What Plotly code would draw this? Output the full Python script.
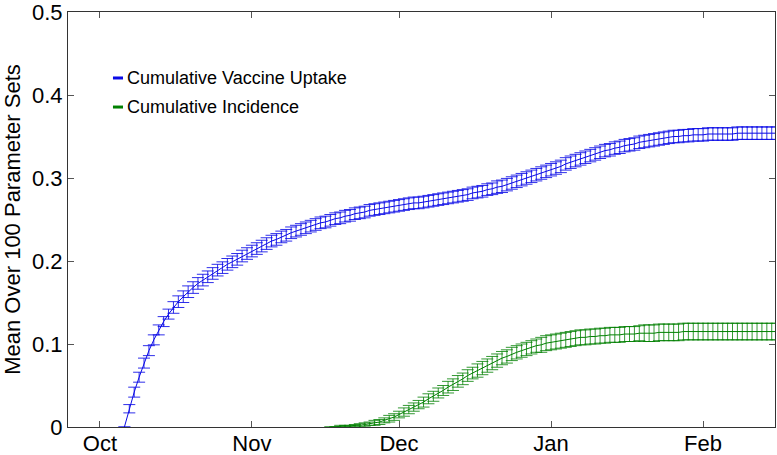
import pandas as pd
import plotly.graph_objects as go

# ---- data (daily means over 100 parameter sets) ----
vacc_start = "2009-10-06"
vacc_mean = [
    0.000, 0.022, 0.042, 0.060, 0.077, 0.092, 0.105, 0.117, 0.127, 0.136,
    0.144, 0.151, 0.157, 0.163, 0.168, 0.173, 0.177, 0.181, 0.185, 0.189,
    0.192, 0.196, 0.199, 0.202, 0.206, 0.209, 0.212, 0.215, 0.218, 0.221,
    0.224, 0.226, 0.229, 0.231, 0.234, 0.236, 0.238, 0.240, 0.242, 0.244,
    0.246, 0.247, 0.249, 0.251, 0.252, 0.254, 0.255, 0.257, 0.258, 0.259,
    0.261, 0.262, 0.263, 0.264, 0.265, 0.266, 0.267, 0.268, 0.269, 0.270,
    0.270, 0.271, 0.272, 0.273, 0.274, 0.275, 0.276, 0.277, 0.278, 0.279,
    0.280, 0.282, 0.283, 0.284, 0.286, 0.287, 0.289, 0.290, 0.292, 0.294,
    0.296, 0.298, 0.300, 0.302, 0.304, 0.306, 0.308, 0.310, 0.312, 0.314,
    0.317, 0.319, 0.321, 0.323, 0.325, 0.327, 0.329, 0.331, 0.333, 0.334,
    0.336, 0.337, 0.339, 0.340, 0.341, 0.343, 0.344, 0.345, 0.346, 0.347,
    0.348, 0.349, 0.350, 0.350, 0.351, 0.351, 0.352, 0.352, 0.352, 0.353,
    0.353, 0.353, 0.353, 0.353, 0.353, 0.354, 0.354, 0.354, 0.354, 0.354,
    0.354, 0.354, 0.354, 0.354,
]
vacc_err = [
    0.000, 0.005, 0.006, 0.006, 0.006, 0.006, 0.006, 0.006, 0.006, 0.006,
    0.007, 0.007, 0.007, 0.007, 0.007, 0.007, 0.007, 0.007, 0.007, 0.007,
    0.007, 0.007, 0.007, 0.007, 0.007, 0.007, 0.007, 0.007, 0.007, 0.007,
    0.007, 0.007, 0.007, 0.007, 0.007, 0.007, 0.007, 0.007, 0.007, 0.007,
    0.007, 0.007, 0.007, 0.007, 0.007, 0.007, 0.007, 0.007, 0.007, 0.007,
    0.007, 0.007, 0.007, 0.007, 0.007, 0.007, 0.007, 0.007, 0.007, 0.007,
    0.007, 0.007, 0.007, 0.007, 0.007, 0.007, 0.007, 0.007, 0.007, 0.007,
    0.007, 0.007, 0.007, 0.007, 0.007, 0.007, 0.0075, 0.0075, 0.0075, 0.0075,
    0.0075, 0.0075, 0.0075, 0.0075, 0.0075, 0.0075, 0.0075, 0.0075, 0.0075, 0.0075,
    0.0075, 0.0075, 0.0075, 0.0075, 0.0075, 0.0075, 0.0075, 0.0075, 0.0075, 0.0075,
    0.0075, 0.0075, 0.0075, 0.0075, 0.0075, 0.0075, 0.0075, 0.0075, 0.0075, 0.0075,
    0.0075, 0.0075, 0.0075, 0.0075, 0.0075, 0.0075, 0.0075, 0.0075, 0.0075, 0.0075,
    0.0075, 0.0075, 0.0075, 0.0075, 0.0075, 0.0075, 0.0075, 0.0075, 0.0075, 0.0075,
    0.0075, 0.0075, 0.0075, 0.0075,
]

inc_start = "2009-11-17"
inc_mean = [
    0.000, 0.000, 0.001, 0.001, 0.001, 0.002, 0.002, 0.003, 0.004, 0.005,
    0.006, 0.008, 0.010, 0.012, 0.015, 0.018, 0.021, 0.024, 0.027, 0.030,
    0.034, 0.037, 0.041, 0.044, 0.048, 0.051, 0.055, 0.058, 0.062, 0.065,
    0.068, 0.071, 0.074, 0.077, 0.080, 0.083, 0.085, 0.088, 0.090, 0.092,
    0.094, 0.096, 0.098, 0.099, 0.101, 0.102, 0.103, 0.104, 0.105, 0.106,
    0.107, 0.108, 0.108, 0.109, 0.109, 0.110, 0.110, 0.111, 0.111, 0.111,
    0.112, 0.112, 0.112, 0.113, 0.113, 0.113, 0.113, 0.114, 0.114, 0.114,
    0.114, 0.114, 0.115, 0.115, 0.115, 0.115, 0.115, 0.115, 0.115, 0.115,
    0.115, 0.115, 0.115, 0.115, 0.115, 0.115, 0.115, 0.115, 0.115, 0.115,
    0.115, 0.115,
]
inc_err = [
    0.000, 0.000, 0.001, 0.001, 0.001, 0.001, 0.002, 0.002, 0.002, 0.003,
    0.003, 0.003, 0.004, 0.004, 0.004, 0.005, 0.005, 0.005, 0.005, 0.006,
    0.006, 0.006, 0.006, 0.006, 0.007, 0.007, 0.007, 0.007, 0.007, 0.007,
    0.008, 0.008, 0.008, 0.008, 0.008, 0.008, 0.008, 0.008, 0.008, 0.008,
    0.008, 0.008, 0.008, 0.009, 0.009, 0.009, 0.009, 0.009, 0.009, 0.009,
    0.009, 0.009, 0.009, 0.009, 0.009, 0.009, 0.009, 0.009, 0.009, 0.009,
    0.009, 0.009, 0.009, 0.009, 0.010, 0.010, 0.010, 0.010, 0.010, 0.010,
    0.010, 0.010, 0.010, 0.010, 0.010, 0.010, 0.010, 0.010, 0.010, 0.010,
    0.010, 0.010, 0.010, 0.010, 0.010, 0.010, 0.010, 0.010, 0.010, 0.010,
    0.010, 0.010,
]

series_names = ["Cumulative Vaccine Uptake", "Cumulative Incidence"]
y_ticks = [0, 0.1, 0.2, 0.3, 0.4, 0.5]
y_tick_text = ["0", "0.1", "0.2", "0.3", "0.4", "0.5"]
x_range = ["2009-09-24 12:00", "2010-02-15 16:00"]

BLUE = "rgb(10,10,230)"
BLUE_EB = "rgba(10,10,230,0.85)"
GREEN = "rgb(0,128,0)"
GREEN_EB = "rgba(0,128,0,0.8)"
FONT = "Liberation Sans, Arial, sans-serif"

vacc_dates = pd.date_range(vacc_start, periods=len(vacc_mean), freq="D")
inc_dates = pd.date_range(inc_start, periods=len(inc_mean), freq="D")

fig = go.Figure()
fig.add_trace(go.Scatter(
    x=vacc_dates, y=vacc_mean, mode="lines", name=series_names[0],
    line=dict(color=BLUE, width=1),
    error_y=dict(type="data", array=vacc_err, visible=True,
                 color=BLUE_EB, thickness=1, width=6),
    showlegend=False,
))
fig.add_trace(go.Scatter(
    x=inc_dates, y=inc_mean, mode="lines", name=series_names[1],
    line=dict(color=GREEN, width=1),
    error_y=dict(type="data", array=inc_err, visible=True,
                 color=GREEN_EB, thickness=1, width=6),
    showlegend=False,
))

# legend drawn as short dashes + text (MATLAB style)
leg_y = [0.841, 0.771]
leg_cols = [BLUE, GREEN]
for name, yy, col in zip(series_names, leg_y, leg_cols):
    fig.add_shape(type="line", xref="paper", yref="paper",
                  x0=0.0636, x1=0.0778, y0=yy, y1=yy,
                  line=dict(color=col, width=3))
    fig.add_annotation(xref="paper", yref="paper", x=0.0806, y=yy,
                       xanchor="left", yanchor="middle", showarrow=False,
                       text=name, font=dict(family=FONT, size=18, color="black"))

axis_common = dict(
    showline=True, linecolor="#333333", linewidth=1, mirror="ticks",
    ticks="inside", ticklen=6, tickcolor="#555555", tickwidth=1,
    showgrid=False, zeroline=False, ticklabeloverflow="allow",
    tickfont=dict(family=FONT, size=22, color="black"),
)

fig.update_xaxes(
    type="date", range=x_range, tick0="2009-10-01", dtick="M1",
    tickformat="%b", ticklabelstandoff=-3, **axis_common,
)
fig.update_yaxes(
    range=[0, 0.5], tickvals=y_ticks, ticktext=y_tick_text,
    title=dict(text="Mean Over 100 Parameter Sets",
               font=dict(family=FONT, size=22, color="black"), standoff=10),
    **axis_common,
)

fig.update_layout(
    width=777, height=455,
    margin=dict(l=68, r=2, t=12, b=28, autoexpand=False),
    paper_bgcolor="white", plot_bgcolor="white",
    font=dict(family=FONT),
)

fig.write_html(
    "out.html",
    config={"displayModeBar": False},
    post_script="document.body.style.margin='0';document.body.style.overflow='hidden';",
)
